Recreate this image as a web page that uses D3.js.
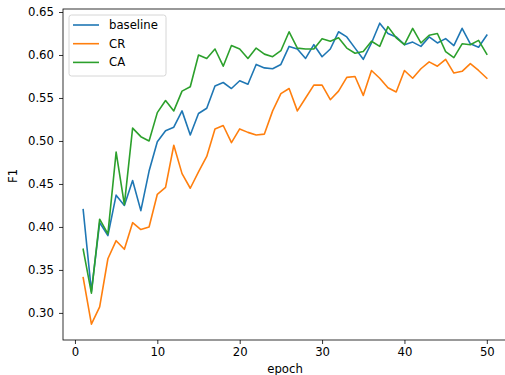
<!DOCTYPE html>
<html>
<head>
<meta charset="utf-8">
<script src="https://cdn.jsdelivr.net/npm/d3@7"></script>
<style>
  body { margin: 0; background: #fff; }
  svg { display: block; font-family: "DejaVu Sans", sans-serif; }
</style>
</head>
<body>
<svg width="505" height="375"></svg>
<script>
// Data
var epochs = d3.range(1, 51);
var baseline = [0.420, 0.325, 0.405, 0.390, 0.437, 0.425, 0.454, 0.419, 0.465, 0.499,
                0.512, 0.516, 0.535, 0.507, 0.532, 0.538, 0.564, 0.568, 0.561, 0.570,
                0.566, 0.589, 0.585, 0.584, 0.589, 0.610, 0.607, 0.596, 0.612, 0.598,
                0.607, 0.627, 0.621, 0.608, 0.595, 0.614, 0.637, 0.625, 0.621, 0.612,
                0.615, 0.610, 0.621, 0.614, 0.619, 0.611, 0.631, 0.613, 0.609, 0.623];
var cr = [0.341, 0.287, 0.307, 0.363, 0.384, 0.374, 0.405, 0.397, 0.400, 0.438,
          0.446, 0.495, 0.462, 0.445, 0.464, 0.482, 0.514, 0.518, 0.498, 0.514,
          0.510, 0.507, 0.508, 0.535, 0.555, 0.561, 0.535, 0.550, 0.565, 0.565,
          0.548, 0.558, 0.574, 0.575, 0.553, 0.582, 0.573, 0.562, 0.557, 0.582,
          0.573, 0.584, 0.592, 0.587, 0.595, 0.579, 0.581, 0.590, 0.582, 0.573];
var ca = [0.374, 0.323, 0.409, 0.392, 0.487, 0.426, 0.515, 0.505, 0.500, 0.533,
          0.547, 0.535, 0.558, 0.563, 0.600, 0.596, 0.607, 0.587, 0.611, 0.607,
          0.596, 0.608, 0.601, 0.598, 0.605, 0.627, 0.608, 0.607, 0.607, 0.619,
          0.616, 0.620, 0.608, 0.602, 0.604, 0.616, 0.610, 0.633, 0.620, 0.612,
          0.631, 0.614, 0.623, 0.625, 0.604, 0.597, 0.613, 0.612, 0.617, 0.601];
var seriesNames = ['baseline', 'CR', 'CA'];
var seriesColors = ['#1f77b4', '#ff7f0e', '#2ca02c'];
var yTicks = [0.30, 0.35, 0.40, 0.45, 0.50, 0.55, 0.60, 0.65];
var xTicks = [0, 10, 20, 30, 40, 50];

var svg = d3.select('svg');
var plot = {l: 63, r: 507, t: 9, b: 340};
var fontSize = '11.7px';

var xScale = d3.scaleLinear().domain([-1.45, 52.45]).range([plot.l, plot.r]);
var yScale = d3.scaleLinear().domain([0.2685, 0.6535]).range([plot.b, plot.t]);

// axes
var xAxisG = svg.append('g')
    .attr('transform', 'translate(0,' + plot.b + ')')
    .call(d3.axisBottom(xScale).tickValues(xTicks).tickSize(4).tickPadding(4).tickFormat(d3.format('d')));
var yAxisG = svg.append('g')
    .attr('transform', 'translate(' + plot.l + ',0)')
    .call(d3.axisLeft(yScale).tickValues(yTicks).tickSize(4).tickPadding(5).tickFormat(d3.format('.2f')));

[xAxisG, yAxisG].forEach(function(g) {
    g.select('.domain').remove();
    g.selectAll('line').attr('stroke', '#000').attr('stroke-width', 0.8);
    g.selectAll('text').attr('fill', '#000').style('font-size', fontSize)
        .style('font-family', '"DejaVu Sans", sans-serif');
});

// spines
svg.append('rect')
    .attr('x', plot.l).attr('y', plot.t)
    .attr('width', plot.r - plot.l).attr('height', plot.b - plot.t)
    .attr('fill', 'none').attr('stroke', '#000').attr('stroke-width', 0.8);

// lines
var allSeries = [baseline, cr, ca];
var line = d3.line()
    .x(function(d, i) { return xScale(epochs[i]); })
    .y(function(d) { return yScale(d); });

allSeries.forEach(function(s, k) {
    svg.append('path')
        .datum(s)
        .attr('d', line)
        .attr('fill', 'none')
        .attr('stroke', seriesColors[k])
        .attr('stroke-width', 1.6)
        .attr('stroke-linejoin', 'round')
        .attr('stroke-linecap', 'square');
});

// axis labels
svg.append('text')
    .attr('x', 285).attr('y', 373)
    .attr('text-anchor', 'middle')
    .style('font-size', fontSize)
    .text('epoch');
svg.append('text')
    .attr('transform', 'translate(17,176) rotate(-90)')
    .attr('text-anchor', 'middle')
    .style('font-size', fontSize)
    .text('F1');

// legend
var legendG = svg.append('g');
legendG.append('rect')
    .attr('x', 69).attr('y', 15)
    .attr('width', 97).attr('height', 61)
    .attr('rx', 2.5)
    .attr('fill', '#fff').attr('fill-opacity', 0.8)
    .attr('stroke', '#ccc').attr('stroke-width', 0.8);

seriesNames.forEach(function(name, k) {
    var y = 25 + k * 18.7;
    legendG.append('line')
        .attr('x1', 73).attr('x2', 99)
        .attr('y1', y).attr('y2', y)
        .attr('stroke', seriesColors[k])
        .attr('stroke-width', 1.6);
    legendG.append('text')
        .attr('x', 109).attr('y', y)
        .attr('dy', '0.35em')
        .style('font-size', fontSize)
        .text(name);
});
</script>
</body>
</html>
